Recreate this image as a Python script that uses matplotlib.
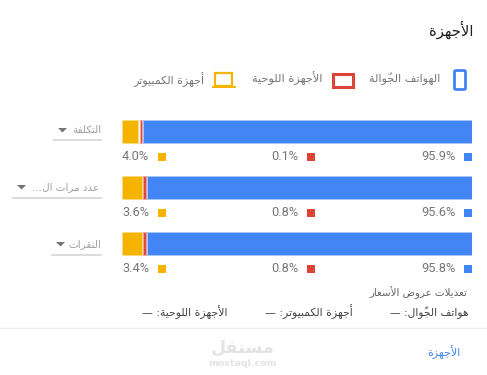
import matplotlib
matplotlib.use("Agg")
import matplotlib.pyplot as plt
from matplotlib.patches import FancyBboxPatch, Rectangle, Polygon

# ---------- data ----------
metrics = ["التكلفة", "عدد مرات ال...", "النقرات"]
legend_labels = ["الهواتف الجوّالة", "الأجهزة اللوحية", "أجهزة الكمبيوتر"]
# bar segments as drawn in the picture (% of bar length)
bar_desktop = [4.7, 5.8, 5.8]
bar_tablet = [0.8, 0.8, 0.8]
bar_mobile = [94.5, 93.4, 93.4]
# printed labels
label_mobile = ["95.9%", "95.6%", "95.8%"]
label_tablet = ["0.1%", "0.8%", "0.8%"]
label_desktop = ["4.0%", "3.6%", "3.4%"]
title = "الأجهزة"
footer_title = "تعديلات عروض الأسعار"
footer_items = ["هواتف الجوّال: —", "أجهزة الكمبيوتر: —", "الأجهزة اللوحية: —"]
link = "الأجهزة"

BLUE, RED, YELLOW = "#4285f4", "#db4437", "#f4b400"
GREY = "#757575"

# ---------- minimal Arabic shaping (matplotlib has no bidi / joining) ----------
FORMS = {  # isolated, final, initial, medial
    "ا": "ﺍﺎ", "أ": "ﺃﺄ", "إ": "ﺇﺈ", "آ": "ﺁﺂ", "د": "ﺩﺪ", "ذ": "ﺫﺬ", "ر": "ﺭﺮ",
    "ز": "ﺯﺰ", "و": "ﻭﻮ", "ة": "ﺓﺔ",
    "ب": "ﺏﺐﺑﺒ", "ت": "ﺕﺖﺗﺘ", "ث": "ﺙﺚﺛﺜ", "ج": "ﺝﺞﺟﺠ", "ح": "ﺡﺢﺣﺤ", "خ": "ﺥﺦﺧﺨ",
    "س": "ﺱﺲﺳﺴ", "ش": "ﺵﺶﺷﺸ", "ص": "ﺹﺺﺻﺼ", "ض": "ﺽﺾﺿﻀ", "ط": "ﻁﻂﻃﻄ", "ظ": "ﻅﻆﻇﻈ",
    "ع": "ﻉﻊﻋﻌ", "غ": "ﻍﻎﻏﻐ", "ف": "ﻑﻒﻓﻔ", "ق": "ﻕﻖﻗﻘ", "ك": "ﻙﻚﻛﻜ", "ل": "ﻝﻞﻟﻠ",
    "م": "ﻡﻢﻣﻤ", "ن": "ﻥﻦﻧﻨ", "ه": "ﻩﻪﻫﻬ", "ي": "ﻱﻲﻳﻴ",
}
LAM_ALEF = {"ا": "ﻻﻼ", "أ": "ﻷﻸ", "إ": "ﻹﻺ", "آ": "ﻵﻶ"}
MARK = "\u0651"


def ar(s):
    clusters = []
    for ch in s:
        if ch == MARK and clusters:
            clusters[-1][1] += ch
        else:
            clusters.append([ch, ""])
    out, i = [], 0
    joins_prev = False
    while i < len(clusters):
        ch, mark = clusters[i]
        nxt = clusters[i + 1][0] if i + 1 < len(clusters) else ""
        if ch not in FORMS:
            out.append(ch + mark)
            joins_prev = False
            i += 1
            continue
        if ch == "ل" and nxt in LAM_ALEF:
            out.append(LAM_ALEF[nxt][1 if joins_prev else 0])
            joins_prev = False
            i += 2
            continue
        f = FORMS[ch]
        can_next = len(f) == 4 and nxt in FORMS
        if joins_prev and can_next:
            g = f[3]
        elif joins_prev:
            g = f[1]
        elif can_next:
            g = f[2]
        else:
            g = f[0]
        out.append(g + mark)
        joins_prev = can_next
        i += 1
    return "".join(reversed(out))


W, H = 487, 375
fig = plt.figure(figsize=(W / 100, H / 100), dpi=100, facecolor="white")

# pixel-space canvas for the furniture
cv = fig.add_axes([0, 0, 1, 1])
cv.set_xlim(0, W)
cv.set_ylim(H, 0)
cv.axis("off")


def rtext(x, y, s, size, color=GREY, ha="right", **kw):
    cv.text(x, y, ar(s), fontsize=size, color=color, ha=ha, va="center",
            family="DejaVu Sans", **kw)


def num(x, y, s, ha):
    cv.text(x, y, s, fontsize=9.2, color=GREY, ha=ha, va="center", family="Roboto")


# title
rtext(473, 30, title, 10.6, color="#212121")

# legend
cv.add_patch(FancyBboxPatch((454.5, 70.5), 11, 19, boxstyle="round,pad=0,rounding_size=1.5",
                            fc="white", ec=BLUE, lw=2.0))
rtext(440, 78, legend_labels[0], 8.1)
cv.add_patch(Rectangle((332.5, 73.5), 20, 13, fc="white", ec=RED, lw=2.2))
rtext(323, 78, legend_labels[1], 8.2)
cv.add_patch(Rectangle((215, 73), 17, 13, fc="white", ec=YELLOW, lw=1.6))
cv.add_patch(Rectangle((212, 86), 24, 2, fc=YELLOW, ec="none"))
rtext(204, 80, legend_labels[2], 8.0)

# dropdowns
drop_text_right = [101, 99, 101]
tri_x = [58, 17, 56]
under_left = [53, 12, 51]
under_y = [140, 198, 255]
text_y = [130, 187, 244]
for i, m in enumerate(metrics):
    rtext(drop_text_right[i], text_y[i], m, 7.5, color="#9e9e9e")
    tx, ty = tri_x[i], text_y[i]
    cv.add_patch(Polygon([(tx, ty - 2), (tx + 9, ty - 2), (tx + 4.5, ty + 2.5)], fc="#757575", ec="none"))
    cv.plot([under_left[i], 102], [under_y[i]] * 2, color="#d6d6d6", lw=1.2, solid_capstyle="butt")

# bars through their own axes
bx = fig.add_axes([122 / W, 1 - 256 / H, 350 / W, (256 - 119) / H])
bx.set_xlim(0, 100)
bx.set_ylim(137, 0)
bx.axis("off")
bx.patch.set_alpha(0)
ypos = [12.5, 68.5, 124.5]
for i, yp in enumerate(ypos):
    d, t, m = bar_desktop[i], bar_tablet[i], bar_mobile[i]
    bx.barh(yp, d, left=0, height=23.5, color=YELLOW, edgecolor="#fbd97f", lw=0.6)
    bx.barh(yp, t, left=d + 0.3, height=23.5, color=RED, edgecolor="#f0a59e", lw=0.8)
    bx.barh(yp, m - 0.6, left=d + t + 0.6, height=23.5, color=BLUE, edgecolor="#a9c6fa", lw=0.6)

# value labels
lab_y = [157, 213, 269]
for i, y in enumerate(lab_y):
    num(122, y, label_desktop[i], "left")
    cv.add_patch(Rectangle((158, y - 4), 8, 8, fc=YELLOW, ec="none"))
    num(298, y, label_tablet[i], "right")
    cv.add_patch(Rectangle((307, y - 4), 8, 8, fc=RED, ec="none"))
    num(456, y, label_mobile[i], "right")
    cv.add_patch(Rectangle((464, y - 4), 8, 8, fc=BLUE, ec="none"))

# footer text
rtext(467, 293, footer_title, 7.4, color="#616161")
rtext(468, 312, footer_items[0], 7.7, color="#424242")
rtext(353, 312, footer_items[1], 7.8, color="#424242")
rtext(228, 312, footer_items[2], 7.8, color="#424242")

# divider and link
cv.plot([0, W], [328, 328], color="#eeeeee", lw=1)
rtext(460, 352, link, 8.0, color=BLUE)

# watermark
rtext(242.5, 348, "مستقل", 12.5, color="#e3e3e3", ha="center", fontweight="bold")
cv.text(242.5, 363, "mostaql.com", fontsize=6.8, color="#e3e3e3", ha="center", va="center",
        family="DejaVu Sans", fontweight="bold")

fig.savefig("out.png", dpi=100, facecolor="white")
